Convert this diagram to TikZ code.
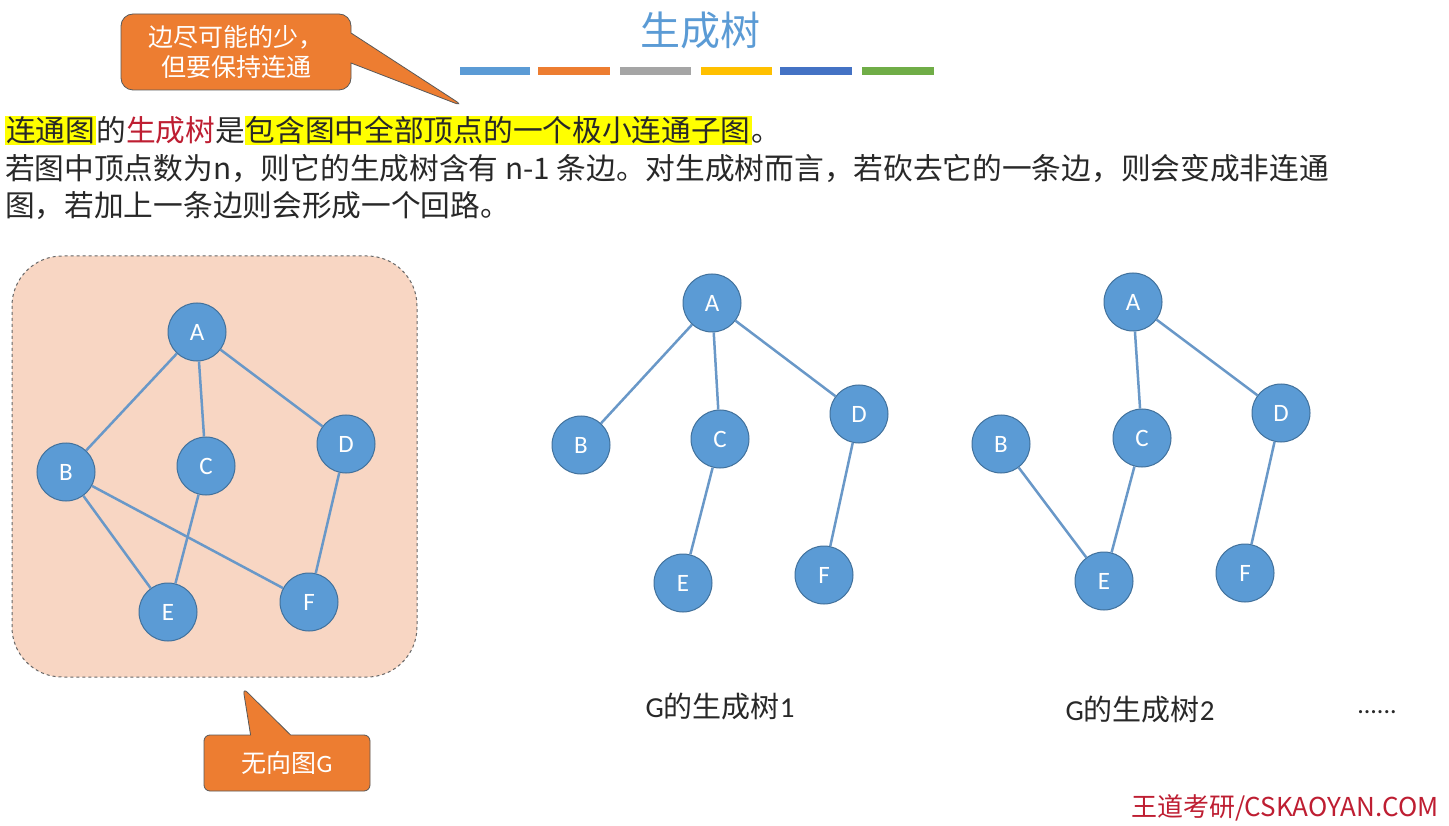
\documentclass[tikz,border=0pt]{standalone}
\usepackage{fontspec}
\setmainfont{Noto Sans CJK SC}
\newfontfamily\lat{Carlito}
\usetikzlibrary{shapes.callouts}
\definecolor{nodeb}{RGB}{91,155,213}
\definecolor{nodebd}{RGB}{65,113,156}
\definecolor{edgec}{RGB}{105,152,200}
\definecolor{orng}{RGB}{237,125,49}
\definecolor{peach}{RGB}{248,214,195}
\definecolor{hl}{RGB}{255,255,0}
\definecolor{redt}{RGB}{190,30,50}
\definecolor{txt}{RGB}{40,40,40}
\begin{document}
\begin{tikzpicture}[x=1pt,y=-1pt,
 v/.style={circle,fill=nodeb,draw=nodebd,line width=1pt,minimum size=58pt,inner sep=0pt,text=white,font=\lat\fontsize{25}{25}\selectfont},
 e/.style={draw=edgec,line width=2.5pt},
 body/.style={anchor=base west,inner sep=0pt,text=txt,font=\fontsize{29.7}{32}\selectfont},
 call/.style={fill=orng,draw=gray!70!black,line width=0.8pt,text=white,font=\fontsize{25}{30}\selectfont,align=center}]
\useasboundingbox[fill=white] (0,0) rectangle (1449,826);
% title
\node[text=nodeb,font=\fontsize{40}{40}\selectfont] (title) at (700,30) {生成树};
\foreach \a/\b/\c in {460/530/5B9BD5,538/610/ED7D31,620/691/A5A5A5,701/772/FFC000,780/852/4472C4,862/934/70AD47}{
 \definecolor{bc}{HTML}{\c}\fill[bc] (\a,67) rectangle (\b,75);}
% callout 1
\node[call,rectangle callout,rounded corners=12pt,minimum width=230pt,minimum height=76pt,callout pointer width=30pt,callout absolute pointer={(465,107)}] (c1) at (236,52) {边尽可能的少，\\但要保持连通};
% text
\node[body] (l1) at (5,142) {\setlength{\fboxsep}{1pt}\colorbox{hl}{连通图}的\textcolor{redt}{生成树}是\colorbox{hl}{包含图中全部顶点的一个极小连通子图}。};
\node[body] (l2) at (5,180) {若图中顶点数为n，则它的生成树含有 n-1 条边。对生成树而言，若砍去它的一条边，则会变成非连通};
\node[body] (l3) at (5,217) {图，若加上一条边则会形成一个回路。};
% graph G
\draw[fill=peach,draw=gray!80!black,dashed,line width=1pt,rounded corners=50pt] (12,256) rectangle (417,677);
\node[v] (GA) at (197,332) {A};
\node[v] (GB) at (66,472) {B};
\node[v] (GC) at (206,466) {C};
\node[v] (GD) at (346,444) {D};
\node[v] (GE) at (168,612) {E};
\node[v] (GF) at (309,602) {F};
\foreach \p/\q in {A/B,A/C,A/D,B/E,B/F,C/E,D/F} \draw[e] (G\p) -- (G\q);
% tree 1
\node[v] (TA) at (712,303) {A};
\node[v] (TB) at (581,445) {B};
\node[v] (TC) at (720,439) {C};
\node[v] (TD) at (859,414) {D};
\node[v] (TE) at (683,583) {E};
\node[v] (TF) at (824,575) {F};
\foreach \p/\q in {A/B,A/C,A/D,C/E,D/F} \draw[e] (T\p) -- (T\q);
% tree 2
\node[v] (SA) at (1133,302) {A};
\node[v] (SB) at (1001,444) {B};
\node[v] (SC) at (1142,438) {C};
\node[v] (SD) at (1281,413) {D};
\node[v] (SE) at (1104,581) {E};
\node[v] (SF) at (1245,573) {F};
\foreach \p/\q in {A/C,A/D,B/E,C/E,D/F} \draw[e] (S\p) -- (S\q);
% callout 2
\node[call,rectangle callout,rounded corners=6pt,minimum width=166pt,minimum height=56pt,callout pointer width=40pt,callout absolute pointer={(243,688)}] (c2) at (287,763) {无向图{\lat G}};
% labels
\node[text=txt,font=\fontsize{29}{29}\selectfont] (L1) at (720,707) {{\lat G}的生成树{\lat 1}};
\node[text=txt,font=\fontsize{29}{29}\selectfont] (L2) at (1140,710) {{\lat G}的生成树{\lat 2}};
\node[text=txt,font=\lat\fontsize{26}{26}\selectfont] (dots) at (1377,712) {......};
\node[anchor=east,text=redt,font=\fontsize{26}{26}\selectfont] (wm) at (1442,808) {王道考研/CSKAOYAN.COM};
\end{tikzpicture}
\end{document}
